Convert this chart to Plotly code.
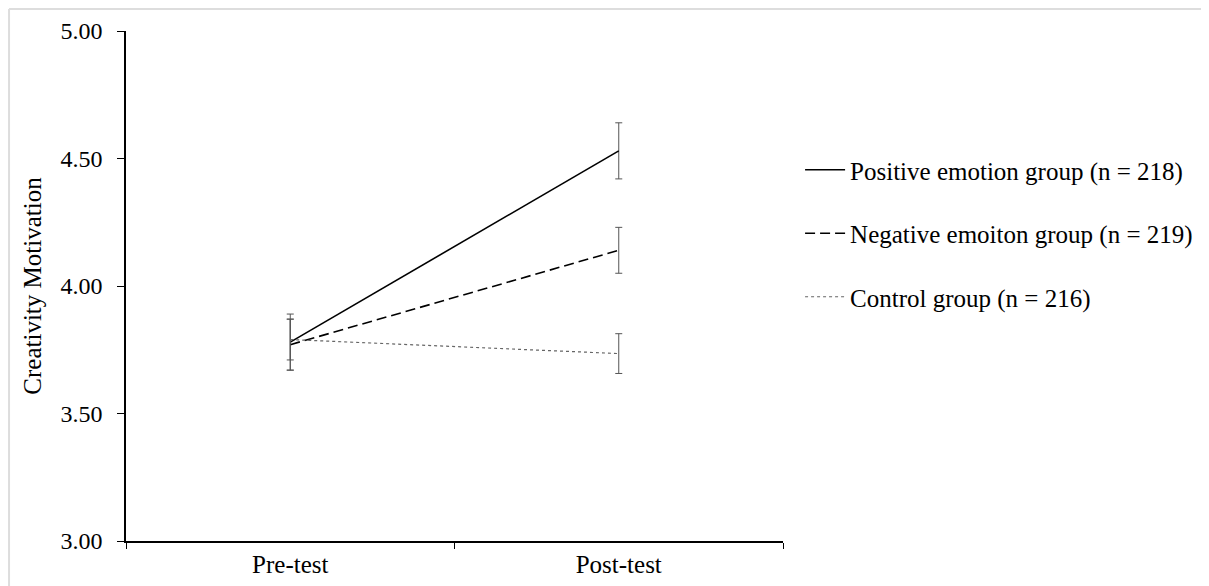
import plotly.graph_objects as go

categories = ["Pre-test", "Post-test"]
group_names = [
    "Positive emotion group (n = 218)",
    "Negative emoiton group (n = 219)",
    "Control group (n = 216)",
]
positive_means = [3.78, 4.53]
positive_err = [0.11, 0.11]
negative_means = [3.77, 4.14]
negative_err = [0.10, 0.09]
control_means = [3.79, 3.735]
control_err = [0.08, 0.078]

y_ticks = [3.0, 3.5, 4.0, 4.5, 5.0]

FONT = "Liberation Serif, Times New Roman, serif"

series = [
    (group_names[0], positive_means, positive_err, dict(color="black", width=1.6, dash="solid")),
    (group_names[1], negative_means, negative_err, dict(color="black", width=1.6, dash="10px,5px")),
    (group_names[2], control_means, control_err, dict(color="#666666", width=1.2, dash="dot")),
]

fig = go.Figure()
for i, (name, means, errs, line) in enumerate(series):
    fig.add_trace(go.Scatter(
        x=categories, y=means, mode="lines", name=name, line=line,
        legendgroup=f"g{i}",
        error_y=dict(type="data", array=errs, visible=True, color="#555555",
                     thickness=1, width=3.5),
    ))

fig.update_layout(
    width=1201, height=578,
    margin=dict(l=118, r=426, t=23, b=45, autoexpand=False),
    paper_bgcolor="white", plot_bgcolor="white",
    font=dict(family=FONT, size=24, color="black"),
    showlegend=True,
    legend=dict(x=1.026, y=0.7725, xanchor="left", yanchor="top",
                font=dict(family=FONT, size=25, color="black"),
                tracegroupgap=28, itemwidth=40, bgcolor="rgba(0,0,0,0)"),
    xaxis=dict(type="category", range=[-0.5, 1.5], tickson="boundaries",
               automargin=False,
               ticks="outside", ticklen=6, tickcolor="black", tickwidth=1,
               showline=True, linecolor="black", linewidth=1.5,
               showgrid=False, zeroline=False,
               tickfont=dict(family=FONT, size=25, color="black")),
    yaxis=dict(range=[3.0, 5.0], tickvals=y_ticks, tickformat=".2f",
               automargin=False,
               ticks="outside", ticklen=7, tickcolor="black", tickwidth=1,
               ticklabelstandoff=10,
               showline=True, linecolor="black", linewidth=1.5,
               showgrid=False, zeroline=False,
               title=dict(text="Creativity Motivation", standoff=12,
                          font=dict(family=FONT, size=25, color="black")),
               tickfont=dict(family=FONT, size=24, color="black")),
    shapes=[
        dict(type="line", xref="paper", yref="paper", x0=-0.178, x1=1.66, y0=1.043, y1=1.043,
             line=dict(color="#dddddd", width=2)),
        dict(type="line", xref="paper", yref="paper", x0=-0.178, x1=-0.178, y0=1.043, y1=-0.1,
             line=dict(color="#dddddd", width=2)),
    ],
)

fig.write_html("out.html")
